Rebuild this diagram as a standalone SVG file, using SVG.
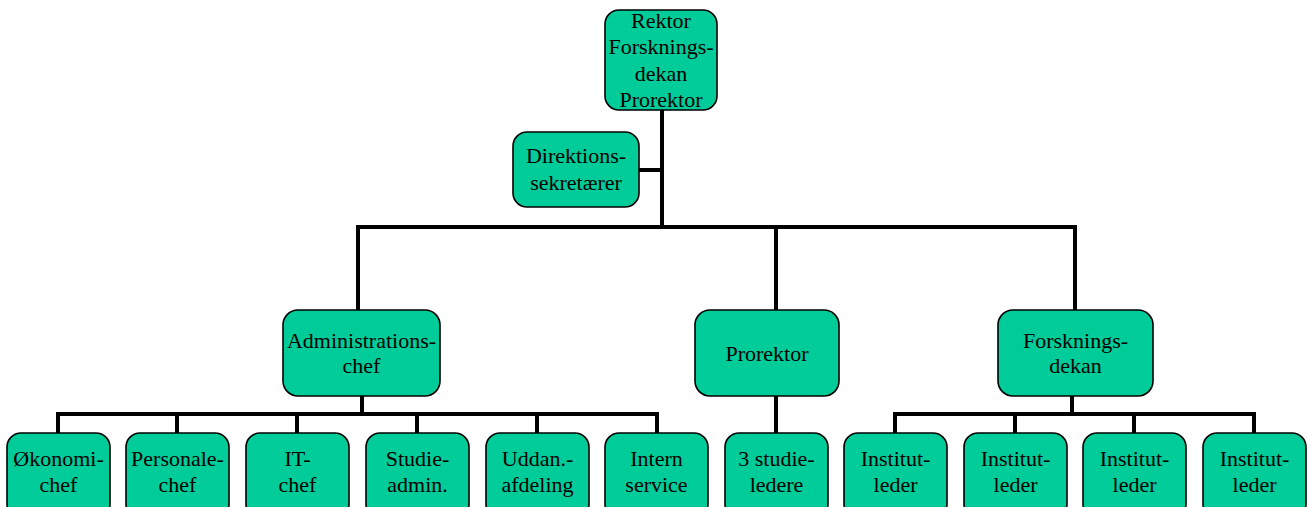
<svg xmlns="http://www.w3.org/2000/svg" width="1308" height="507" viewBox="0 0 1308 507">
<style>
.box{fill:#00CC99;stroke:#000;stroke-width:1.6}
.t{font-family:'Liberation Serif','Times New Roman',Tinos,'DejaVu Serif',serif;font-size:22px;fill:#000;text-anchor:middle}
.c{fill:none;stroke:#000;stroke-width:4;stroke-linecap:square}
</style>
<rect width="1308" height="507" fill="#fff"/>
<g id="connectors">
<path class="c" d="M662 110V227M639 170H662M358 227H1075M358 227V309M776 227V309M1075 227V309"/>
<path class="c" d="M362 397V414M58 414H657M58 414V433M177 414V433M297 414V433M417 414V433M537 414V433M657 414V433"/>
<path class="c" d="M776 397V433"/>
<path class="c" d="M1072 397V414M895 414H1254M895 414V433M1015 414V433M1134 414V433M1254 414V433"/>
</g>
<g id="rektor"><rect class="box" x="605" y="10" width="112" height="100" rx="14"/>
<text class="t" x="661" y="28">Rektor</text><text class="t" x="661" y="54">Forsknings-</text><text class="t" x="661" y="81">dekan</text><text class="t" x="661" y="107">Prorektor</text></g>
<g id="direktion"><rect class="box" x="513" y="132" width="126" height="75" rx="14"/>
<text class="t" x="576" y="163">Direktions-</text><text class="t" x="576" y="190">sekretærer</text></g>
<g id="admin"><rect class="box" x="283" y="310" width="157" height="86" rx="15"/>
<text class="t" x="361.5" y="348">Administrations-</text><text class="t" x="361.5" y="373">chef</text></g>
<g id="prorektor"><rect class="box" x="695" y="310" width="144" height="86" rx="15"/>
<text class="t" x="767" y="361">Prorektor</text></g>
<g id="forskningsdekan"><rect class="box" x="998" y="310" width="155" height="86" rx="15"/>
<text class="t" x="1075.5" y="348">Forsknings-</text><text class="t" x="1075.5" y="373">dekan</text></g>
<g id="okonomi"><rect class="box" x="7" y="433" width="103" height="85" rx="14"/>
<text class="t" x="58.5" y="466">Økonomi-</text><text class="t" x="58.5" y="492">chef</text></g>
<g id="personale"><rect class="box" x="126" y="433" width="103" height="85" rx="14"/>
<text class="t" x="177.5" y="466">Personale-</text><text class="t" x="177.5" y="492">chef</text></g>
<g id="it"><rect class="box" x="246" y="433" width="103" height="85" rx="14"/>
<text class="t" x="297.5" y="466">IT-</text><text class="t" x="297.5" y="492">chef</text></g>
<g id="studieadmin"><rect class="box" x="366" y="433" width="103" height="85" rx="14"/>
<text class="t" x="417.5" y="466">Studie-</text><text class="t" x="417.5" y="492">admin.</text></g>
<g id="uddan"><rect class="box" x="486" y="433" width="103" height="85" rx="14"/>
<text class="t" x="537.5" y="466">Uddan.-</text><text class="t" x="537.5" y="492">afdeling</text></g>
<g id="intern"><rect class="box" x="605" y="433" width="103" height="85" rx="14"/>
<text class="t" x="656.5" y="466">Intern</text><text class="t" x="656.5" y="492">service</text></g>
<g id="studieledere"><rect class="box" x="725" y="433" width="103" height="85" rx="14"/>
<text class="t" x="776.5" y="466">3 studie-</text><text class="t" x="776.5" y="492">ledere</text></g>
<g id="institut1"><rect class="box" x="844" y="433" width="103" height="85" rx="14"/>
<text class="t" x="895.5" y="466">Institut-</text><text class="t" x="895.5" y="492">leder</text></g>
<g id="institut2"><rect class="box" x="964" y="433" width="103" height="85" rx="14"/>
<text class="t" x="1015.5" y="466">Institut-</text><text class="t" x="1015.5" y="492">leder</text></g>
<g id="institut3"><rect class="box" x="1083" y="433" width="103" height="85" rx="14"/>
<text class="t" x="1134.5" y="466">Institut-</text><text class="t" x="1134.5" y="492">leder</text></g>
<g id="institut4"><rect class="box" x="1203" y="433" width="103" height="85" rx="14"/>
<text class="t" x="1254.5" y="466">Institut-</text><text class="t" x="1254.5" y="492">leder</text></g>
</svg>
